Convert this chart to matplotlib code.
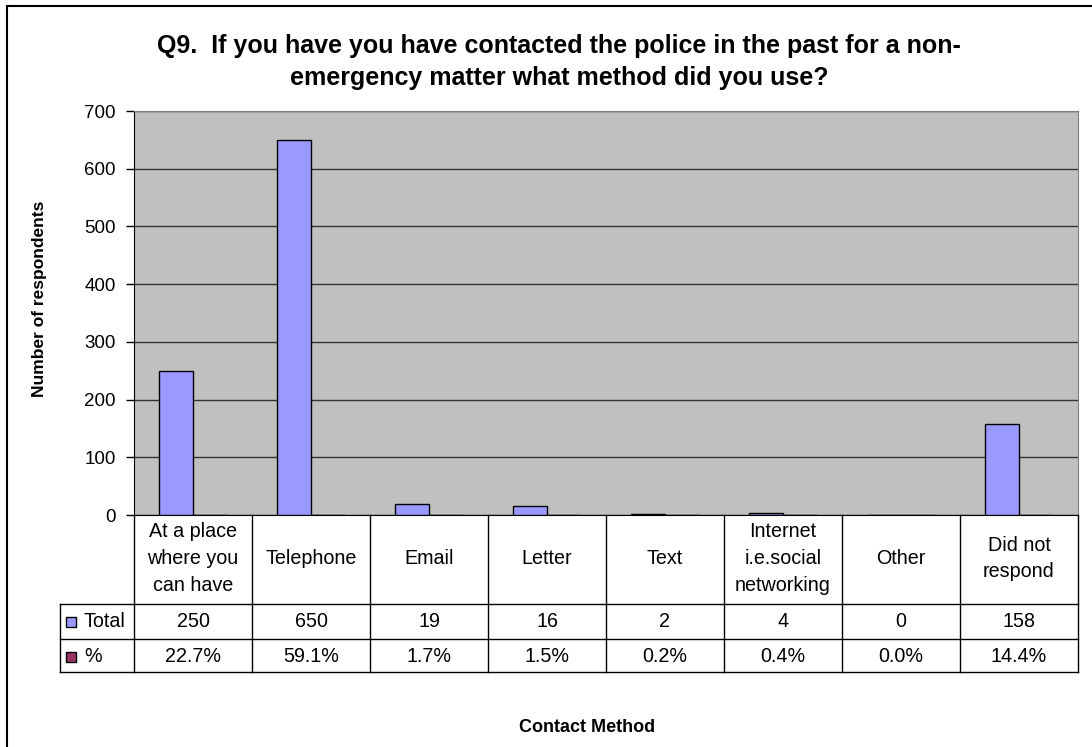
import numpy as np
import matplotlib
matplotlib.use("Agg")
import matplotlib.pyplot as plt
from matplotlib.lines import Line2D
from matplotlib.patches import Rectangle

# Survey answers per contact method
categories = ["At a place\nwhere you\ncan have", "Telephone", "Email", "Letter", "Text",
              "Internet\ni.e.social\nnetworking", "Other", "Did not\nrespond"]
totals = [250, 650, 19, 16, 2, 4, 0, 158]
percents = [22.7, 59.1, 1.7, 1.5, 0.2, 0.4, 0.0, 14.4]
series_names = ["Total", "%"]
series_colors = ["#9999FF", "#993366"]

plt.rcParams['font.family'] = ['Liberation Sans', 'DejaVu Sans']

W, H = 1092, 747
fig = plt.figure(figsize=(W / 100, H / 100), dpi=100)


def fx(x):
    return x / W


def fy(y):
    return 1 - y / H


# plot area in pixels
left, right, top, bottom = 134, 1078, 111, 515
ax = fig.add_axes([fx(left), fy(bottom), fx(right) - fx(left), fy(top) - fy(bottom)])
ax.set_facecolor("#C0C0C0")

x = np.arange(len(categories))
w = 1 / 3.5
ax.bar(x - w / 2, totals, w, color=series_colors[0], edgecolor="black", lw=1, zorder=3)
ax.bar(x + w / 2, np.array(percents) / 100, w, color=series_colors[1], edgecolor="black", lw=1, zorder=3)

ax.set_xlim(-0.5, len(categories) - 0.5)
ax.set_ylim(0, 700)
ax.set_yticks(range(0, 701, 100))
ax.set_xticks([])
ax.yaxis.grid(True, color="#333333", lw=1)
ax.set_axisbelow(True)
ax.tick_params(axis="y", length=6, width=1, labelsize=13.5, pad=7, direction="out")
for s in ["top", "right"]:
    ax.spines[s].set_color("#808080")
for s in ["left", "bottom"]:
    ax.spines[s].set_color("black")

# data table under the plot
col_w = (right - left) / len(categories)
row_head, row_total, row_pct = 604, 639, 672
key_left = 60
fs = 14.2


def line(x0, y0, x1, y1):
    fig.add_artist(Line2D([fx(x0), fx(x1)], [fy(y0), fy(y1)], color="black", lw=1))


for i in range(len(categories) + 1):
    xp = left + i * col_w
    line(xp, bottom, xp, row_pct)
line(key_left, row_head, key_left, row_pct)
for yp in [row_head, row_total, row_pct]:
    line(key_left, yp, right, yp)

for i, cat in enumerate(categories):
    cx = left + (i + 0.5) * col_w
    fig.text(fx(cx), fy(558.5), cat, ha="center", va="center", fontsize=fs, linespacing=1.52)
    fig.text(fx(cx), fy(621.5), f"{totals[i]}", ha="center", va="center", fontsize=fs)
    fig.text(fx(cx), fy(656.5), f"{percents[i]:.1f}%", ha="center", va="center", fontsize=fs)

for yc, name, col in zip([621.5, 656.5], series_names, series_colors):
    fig.add_artist(Rectangle((fx(66), fy(yc + 5)), fx(10), 10 / H, facecolor=col,
                             edgecolor="black", lw=1))
    fig.text(fx(84), fy(yc), name, ha="left", va="center", fontsize=fs)

# titles
fig.text(fx(559), fy(62),
         "Q9.  If you have you have contacted the police in the past for a non-\n"
         "emergency matter what method did you use?",
         ha="center", va="center", fontsize=18, weight="bold", linespacing=1.42)
fig.text(fx(40), fy(299), "Number of respondents", rotation=90, ha="center", va="center",
         fontsize=12.5, weight="bold")
fig.text(fx(587), fy(727), "Contact Method", ha="center", va="center", fontsize=13, weight="bold")

# chart border
fig.add_artist(Rectangle((fx(7), fy(H + 20)), fx(W), (H + 14) / H, fill=False,
                         edgecolor="black", lw=1.5))

fig.savefig("out.png", dpi=100)
